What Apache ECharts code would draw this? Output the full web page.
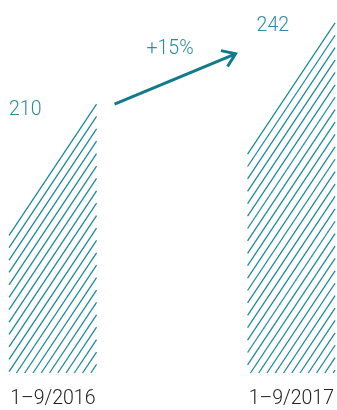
<!DOCTYPE html>
<html>
<head>
<meta charset="utf-8">
<script src="https://cdn.jsdelivr.net/npm/echarts@6/dist/echarts.min.js"></script>
<style>html,body{margin:0;padding:0;background:#fff}#c{width:337px;height:410px}</style>
</head>
<body>
<div id="c"></div>
<script>
const categories = ['1–9/2016', '1–9/2017'];
const values = [210, 242];
const changeLabel = '+15%';

const HATCH = '#1e8a9d';
const LABEL = '#2a8c9c';
const ARROW = '#117a8b';
const FONT = 'Roboto, "Liberation Sans", sans-serif';
const SLOPE = 1.5;      // dy/dx of hatch lines
const VSPACE = 12.4;    // vertical spacing of hatch lines
const BAR_W = 87.5;
const LABEL_DX = [0, 9];
const LABEL_DY = [6, 3];
const Y_MIN = 104, Y_MAX = 251;
const X_MIN = -0.2214, X_MAX = 1.1798;

const chart = echarts.init(document.getElementById('c'), null, {renderer: 'canvas'});

function renderItem(params, api) {
  const idx = api.value(0);
  const v = api.value(1);
  const top = api.coord([idx, v]);
  const bot = api.coord([idx, Y_MIN]);
  const xL = top[0] - BAR_W / 2, xR = top[0] + BAR_W / 2;
  const yTop = top[1], yBot = bot[1];
  const children = [];
  const c0 = yTop + SLOPE * xR;
  const cMax = yBot + SLOPE * xR;
  for (let c = c0; c < cMax; c += VSPACE) {
    const x1 = Math.max(xL, (c - yBot) / SLOPE);
    const x2 = xR;
    if (x1 >= x2) continue;
    children.push({
      type: 'line',
      shape: {x1: x1, y1: c - SLOPE * x1, x2: x2, y2: c - SLOPE * x2},
      style: {stroke: HATCH, lineWidth: 1.3}
    });
  }
  children.push({
    type: 'text',
    style: {
      x: xL + LABEL_DX[params.dataIndex], y: yTop + LABEL_DY[params.dataIndex],
      text: String(v), fill: LABEL,
      font: '300 19.5px ' + FONT,
      textAlign: 'left', textVerticalAlign: 'middle'
    }
  });
  return {type: 'group', children: children};
}

chart.setOption({
  animation: false,
  grid: {left: 0, right: 0, top: 0, bottom: 37},
  xAxis: {
    type: 'value', min: X_MIN, max: X_MAX,
    axisLine: {show: false}, axisTick: {show: false}, splitLine: {show: false},
    axisLabel: {
      customValues: categories.map((c, i) => i),
      formatter: v => categories[Math.round(v)],
      color: '#222', fontSize: 19.5, fontFamily: FONT, fontWeight: 300, margin: 16
    }
  },
  yAxis: {type: 'value', min: Y_MIN, max: Y_MAX, show: false, splitLine: {show: false}},
  series: [{
    type: 'custom',
    renderItem: renderItem,
    data: values.map((v, i) => [i, v]),
    clip: false
  }]
});

// Arrow annotation placed relative to the bars
const p1 = chart.convertToPixel({gridIndex: 0}, [0, values[0]]);
const p2 = chart.convertToPixel({gridIndex: 0}, [1, values[1]]);
const start = [p1[0] + BAR_W / 2 + 18, p1[1]];
const end = [p2[0] - BAR_W / 2 - 12, p2[1] + 31];
const ang = Math.atan2(start[1] - end[1], start[0] - end[0]);
const wing = 15, spread = 35 * Math.PI / 180;
const w1 = [end[0] + wing * Math.cos(ang - spread), end[1] + wing * Math.sin(ang - spread)];
const w2 = [end[0] + wing * Math.cos(ang + spread), end[1] + wing * Math.sin(ang + spread)];
const mid = [(start[0] + end[0]) / 2, (start[1] + end[1]) / 2];
chart.setOption({
  graphic: [
    {type: 'polyline', shape: {points: [start, end]}, style: {stroke: ARROW, lineWidth: 3, fill: null}},
    {type: 'polyline', shape: {points: [w1, end, w2]}, style: {stroke: ARROW, lineWidth: 3, fill: null, lineJoin: 'miter'}},
    {type: 'text', x: mid[0] - 5, y: mid[1] - 30,
     style: {text: changeLabel, fill: LABEL, font: '300 19.5px ' + FONT, textAlign: 'center', textVerticalAlign: 'middle'}}
  ]
});
</script>
</body>
</html>
